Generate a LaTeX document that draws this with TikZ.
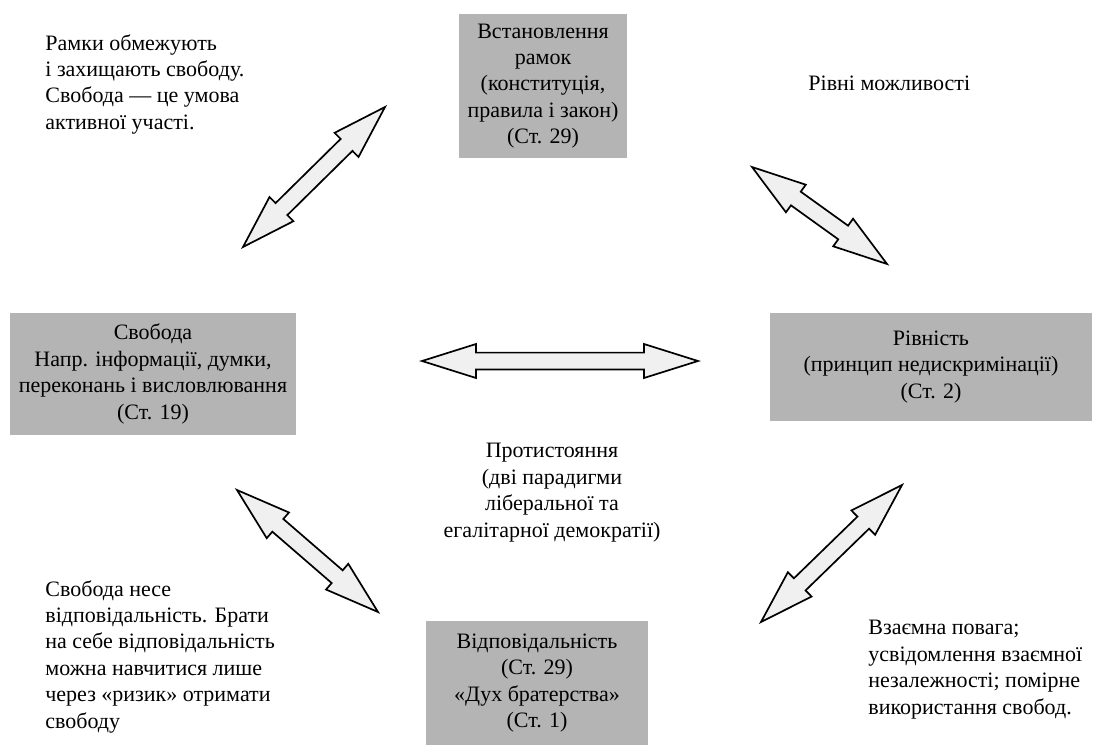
\documentclass[tikz,border=0pt]{standalone}
\usepackage{fontspec}
\setmainfont{Liberation Serif}
\usetikzlibrary{calc}
\definecolor{boxgray}{RGB}{180,180,180}
\definecolor{arrfill}{RGB}{240,240,240}
\newcommand{\arrHL}{27pt}
\newcommand{\arrHW}{8.5pt}
\newcommand{\arrSW}{4.2pt}
\newcommand{\dblarrow}[3]{%
  \coordinate (#3a) at ($(#1)!\arrHL!(#2)$);
  \coordinate (#3b) at ($(#2)!\arrHL!(#1)$);
  \draw[dbl] (#1) -- ($(#3a)!\arrHW!90:(#2)$) -- ($(#3a)!\arrSW!90:(#2)$)
    -- ($(#3b)!\arrSW!-90:(#1)$) -- ($(#3b)!\arrHW!-90:(#1)$) -- (#2)
    -- ($(#3b)!\arrHW!90:(#1)$) -- ($(#3b)!\arrSW!90:(#1)$)
    -- ($(#3a)!\arrSW!-90:(#2)$) -- ($(#3a)!\arrHW!-90:(#2)$) -- cycle;
}
\tikzset{
  fnt/.style={font=\fontsize{11}{13.2}\selectfont},
  box/.style={fnt, fill=boxgray, align=center, inner sep=0pt},
  txt/.style={fnt, align=left, inner sep=0pt, anchor=north west},
  ctxt/.style={fnt, align=center, inner sep=0pt, anchor=north},
  dbl/.style={draw=black, line width=0.85pt, fill=arrfill, line join=miter},
}
\begin{document}
\begin{tikzpicture}[x=0.5pt, y=-0.5pt]
\useasboundingbox (0,0) rectangle (1102,744);
\fill[white] (0,0) rectangle (1102,744);
% boxes
\node[box, minimum width=84pt, minimum height=72pt] (top) at (543,86)
  {Встановлення\\рамок\\(конституція,\\правила і закон)\\(Ст. 29)};
\node[box, minimum width=143pt, minimum height=61pt] (left) at (153,374)
  {Свобода\\Напр. інформації, думки,\\переконань і висловлювання\\(Ст. 19)};
\node[box, minimum width=161pt, minimum height=54pt] (right) at (931,367)
  {Рівність\\(принцип недискримінації)\\(Ст. 2)};
\node[box, minimum width=111pt, minimum height=62pt] (bottom) at (537,683)
  {Відповідальність\\(Ст. 29)\\«Дух братерства»\\(Ст. 1)};
% texts
\node[txt] (tl) at (45,34) {Рамки обмежують\\і захищають свободу.\\Свобода — це умова\\активної участі.};
\node[txt, anchor=west] (tr) at (808,83) {Рівні можливості};
\node[ctxt] (center) at (552,443) {Протистояння\\(дві парадигми\\ліберальної та\\егалітарної демократії)};
\node[txt] (bl) at (45,580) {Свобода несе\\відповідальність. Брати\\на себе відповідальність\\можна навчитися лише\\через «ризик» отримати\\свободу};
\node[txt] (br) at (868,620) {Взаємна повага;\\усвідомлення взаємної\\незалежності; помірне\\використання свобод.};
% arrow tips
\coordinate (p1) at (385,107); \coordinate (p2) at (243,247);
\coordinate (q1) at (752,167); \coordinate (q2) at (887,264);
\coordinate (c1) at (422,361); \coordinate (c2) at (698,361);
\coordinate (r1) at (237,490); \coordinate (r2) at (378,612);
\coordinate (s1) at (902,485); \coordinate (s2) at (761,622);
\dblarrow{p1}{p2}{pa}
\dblarrow{q1}{q2}{qa}
\dblarrow{c1}{c2}{ca}
\dblarrow{r1}{r2}{ra}
\dblarrow{s1}{s2}{sa}
\end{tikzpicture}
\end{document}
